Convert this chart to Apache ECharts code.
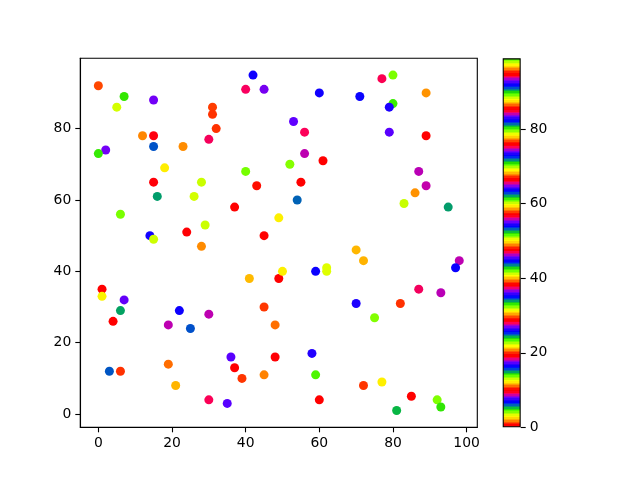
<!DOCTYPE html>
<html>
<head>
<meta charset="utf-8">
<script src="https://cdn.jsdelivr.net/npm/echarts@6/dist/echarts.min.js"></script>
<style>html,body{margin:0;padding:0;background:#fff}#c{width:640px;height:480px}</style>
</head>
<body>
<div id="c"></div>
<script>
const xs = [0,7,5,15,42,40,45,31,31,32,30,12,15,15,23,2,0,18,15,28,40,43,16,26,37,6,49,29,24,45,14,15,28,
  77,80,60,71,89,80,79,53,56,79,89,56,61,52,55,54,87,89,86,83,95,
  41,49,50,1,1,7,6,4,22,30,19,25,45,48,3,6,19,21,36,37,39,45,48,30,35,
  70,72,59,62,62,98,97,87,93,70,82,75,58,59,72,77,60,85,92,93,81];
const ys = [92,89,86,88,95,91,91,86,84,80,77,78,78,75,75,74,73,69,65,65,68,64,61,61,58,56,55,53,51,50,50,49,47,
  94,95,90,89,90,87,86,82,79,79,78,73,71,70,65,60,68,64,62,59,58,
  38,38,40,35,33,32,29,26,29,28,25,24,30,25,12,12,14,8,16,13,10,11,16,4,3,
  46,43,40,41,40,43,41,35,34,31,31,27,17,11,8,9,4,5,4,2,1];
const cs = [29.5,70.9,12.7,55.2,92.1,27.9,64.7,1.0,76.7,38.8,37.4,67.9,9.5,53.3,86.9,26.8,61.4,2.6,75.9,41.2,32.4,66.9,14.8,50.6,85.5,22.9,59.5,3.3,76.0,38.1,35.3,69.6,11.1,
  56.4,89.2,25.8,63.6,1.7,80.3,44.9,36.1,75.3,17.1,47.5,93.7,19.2,60.7,0.1,81.6,46.3,36.9,68.0,12.8,52.7,
  87.3,19.1,59.5,0.1,78.5,45.6,33.7,66.6,16.3,55.8,93.7,24.9,57.8,1.4,81.7,38.8,29.8,68.3,17.1,47.5,86.2,20.5,57.0,9.0,83.4,
  39.9,30.4,73.1,12.6,50.5,93.7,25.7,65.8,8.4,82.8,38.8,32.3,73.4,13.8,48.3,87.9,19.1,57.1,3.9,80.4,43.0];
const xTicks = [0,20,40,60,80,100];
const yTicks = [0,20,40,60,80];
const cbTicks = [0,20,40,60,80];
const cMin = 0, cMax = 99;

// matplotlib 'prism' colormap, 256 entries
function clip(v){return Math.max(0,Math.min(1,v));}
const prism = [];
for (let i = 0; i < 256; i++) {
  const t = i / 255 * 20.9;
  const r = clip(0.75*Math.sin((t+0.25)*Math.PI)+0.67);
  const g = clip(0.75*Math.sin((t-0.25)*Math.PI)+0.33);
  const b = clip(-1.1*Math.sin(t*Math.PI));
  prism.push('rgb(' + Math.round(r*255) + ',' + Math.round(g*255) + ',' + Math.round(b*255) + ')');
}
const stops = [];
prism.forEach((col, i) => {
  stops.push({offset: i/256, color: col});
  stops.push({offset: (i+1)/256, color: col});
});

const font = {fontFamily: 'DejaVu Sans', fontSize: 13.9, color: '#000'};
const chart = echarts.init(document.getElementById('c'), null, {renderer: 'canvas'});
const data = xs.map((x, i) => [x, ys[i], cs[i]]);

chart.setOption({
  animation: false,
  backgroundColor: '#fff',
  grid: [
    {left: 80.3, right: 162.7, top: 58.3, bottom: 52.7, show: true, borderColor: '#000', borderWidth: 1.1, backgroundColor: 'transparent'},
    {left: 502.7, width: 18, top: 58.3, bottom: 52.7}
  ],
  visualMap: {show: false, type: 'continuous', min: cMin, max: cMax, dimension: 2, seriesIndex: 0, inRange: {color: prism}},
  xAxis: [
    {type: 'value', gridIndex: 0, min: -4.9, max: 102.9, splitLine: {show: false},
     axisLine: {show: true, onZero: false, lineStyle: {color: '#000', width: 1.1}},
     axisTick: {show: true, length: 5, lineStyle: {color: '#000', width: 1.1}, customValues: xTicks},
     axisLabel: Object.assign({margin: 9, customValues: xTicks}, font)},
    {type: 'category', gridIndex: 1, data: ['c'], show: false}
  ],
  yAxis: [
    {type: 'value', gridIndex: 0, min: -3.7, max: 99.7, splitLine: {show: false},
     axisLine: {show: true, onZero: false, lineStyle: {color: '#000', width: 1.1}},
     axisTick: {show: true, length: 5, lineStyle: {color: '#000', width: 1.1}, customValues: yTicks},
     axisLabel: Object.assign({margin: 9, customValues: yTicks}, font)},
    {type: 'value', gridIndex: 1, position: 'right', min: cMin, max: cMax, splitLine: {show: false},
     axisLine: {show: false},
     axisTick: {show: true, length: 5, lineStyle: {color: '#000', width: 1.1}, customValues: cbTicks},
     axisLabel: Object.assign({margin: 9, customValues: cbTicks}, font)}
  ],
  series: [
    {type: 'scatter', xAxisIndex: 0, yAxisIndex: 0, data: data, symbol: 'circle', symbolSize: 9, itemStyle: {opacity: 1}},
    {type: 'bar', xAxisIndex: 1, yAxisIndex: 1, data: [cMax], barWidth: '100%', silent: true,
     itemStyle: {color: new echarts.graphic.LinearGradient(0, 1, 0, 0, stops), borderColor: '#000', borderWidth: 1.1}}
  ]
});
</script>
</body>
</html>
